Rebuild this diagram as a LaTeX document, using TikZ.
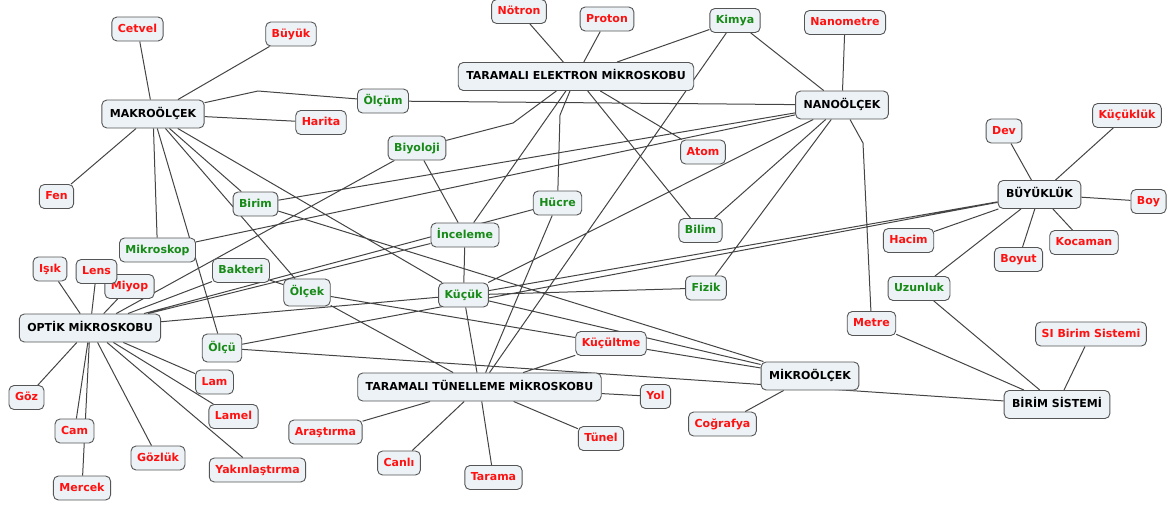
\documentclass[tikz,border=0pt]{standalone}
\usepackage{fontspec}
\setmainfont{DejaVu Sans}
\usetikzlibrary{backgrounds}

\definecolor{kuturenk}{HTML}{ECF2F5}
\definecolor{kenarrenk}{HTML}{555555}
\definecolor{cizgirenk}{HTML}{444444}
\definecolor{yesilrenk}{HTML}{178A17}
\definecolor{kirmizirenk}{HTML}{FF1111}

\begin{document}
\begin{tikzpicture}
        [
            x=1pt, y=-1pt,
            kavram/.style = {draw=kenarrenk, fill=kuturenk, rounded corners=5pt, line width=0.9pt,
                             font=\bfseries\fontsize{11}{13}\selectfont, inner xsep=6pt, inner ysep=0pt,
                             text height=8pt, text depth=2pt, minimum height=24pt},
            anakavram/.style = {kavram, text=black, minimum height=28pt, inner xsep=8pt},
            yesilkavram/.style = {kavram, text=yesilrenk},
            kirmizikavram/.style = {kavram, text=kirmizirenk},
            bag/.style = {draw=cizgirenk, line width=1pt}
        ]
            \useasboundingbox (0,0) rectangle (1172,504);

            % ana kavramlar
            \node [anakavram] (makro) at (153,114) {MAKROÖLÇEK};
            \node [anakavram] (tem) at (576,76.5) {TARAMALI ELEKTRON MİKROSKOBU};
            \node [anakavram] (nano) at (842,105) {NANOÖLÇEK};
            \node [anakavram] (buyukluk) at (1039.5,194.5) {BÜYÜKLÜK};
            \node [anakavram] (optik) at (90,328) {OPTİK MİKROSKOBU};
            \node [anakavram] (ttm) at (479.5,387) {TARAMALI TÜNELLEME MİKROSKOBU};
            \node [anakavram] (mikro) at (810,376) {MİKROÖLÇEK};
            \node [anakavram] (birimsis) at (1057,404.5) {BİRİM SİSTEMİ};

            % yesil kavramlar
            \node [yesilkavram] (olcum) at (383,101) {Ölçüm};
            \node [yesilkavram] (kimya) at (735,20.5) {Kimya};
            \node [yesilkavram] (biyoloji) at (417,148) {Biyoloji};
            \node [yesilkavram] (birim) at (255.5,204) {Birim};
            \node [yesilkavram] (hucre) at (557.5,203) {Hücre};
            \node [yesilkavram] (bilim) at (700.5,230.5) {Bilim};
            \node [yesilkavram] (inceleme) at (465,235) {İnceleme};
            \node [yesilkavram] (mikroskop) at (157.5,250) {Mikroskop};
            \node [yesilkavram] (bakteri) at (241,270.5) {Bakteri};
            \node [yesilkavram, minimum height=27pt] (olcek) at (307,292.5) {Ölçek};
            \node [yesilkavram] (kucuk) at (463.5,295) {Küçük};
            \node [yesilkavram] (fizik) at (706,288) {Fizik};
            \node [yesilkavram] (uzunluk) at (919,288.5) {Uzunluk};
            \node [yesilkavram, minimum height=28pt] (olcu) at (222,348) {Ölçü};

            % kirmizi kavramlar
            \node [kirmizikavram] (cetvel) at (137.5,29) {Cetvel};
            \node [kirmizikavram] (buyuk) at (291,34) {Büyük};
            \node [kirmizikavram] (harita) at (321,122.5) {Harita};
            \node [kirmizikavram] (fen) at (56.5,196.5) {Fen};
            \node [kirmizikavram] (notron) at (519,11.5) {Nötron};
            \node [kirmizikavram] (proton) at (607,19) {Proton};
            \node [kirmizikavram] (nanometre) at (845,22.5) {Nanometre};
            \node [kirmizikavram] (atom) at (703,152) {Atom};
            \node [kirmizikavram] (dev) at (1004,131) {Dev};
            \node [kirmizikavram] (kucukluk) at (1127,115.5) {Küçüklük};
            \node [kirmizikavram] (boy) at (1148.5,201.5) {Boy};
            \node [kirmizikavram] (hacim) at (908.5,240.5) {Hacim};
            \node [kirmizikavram] (kocaman) at (1084,242.5) {Kocaman};
            \node [kirmizikavram] (boyut) at (1018.5,259.5) {Boyut};
            \node [kirmizikavram] (isik) at (50,269) {Işık};
            \node [kirmizikavram] (miyop) at (129.5,286.5) {Miyop};
            \node [kirmizikavram] (lens) at (96.5,271.5) {Lens};
            \node [kirmizikavram] (metre) at (871.5,323.5) {Metre};
            \node [kirmizikavram] (sibirim) at (1091,334) {SI Birim Sistemi};
            \node [kirmizikavram] (kucultme) at (611,343.5) {Küçültme};
            \node [kirmizikavram] (lam) at (214.5,382) {Lam};
            \node [kirmizikavram] (yol) at (655.5,396.5) {Yol};
            \node [kirmizikavram] (goz) at (26.5,397.5) {Göz};
            \node [kirmizikavram] (lamel) at (233.5,416.5) {Lamel};
            \node [kirmizikavram] (cografya) at (722.5,424) {Coğrafya};
            \node [kirmizikavram] (arastirma) at (325.5,432) {Araştırma};
            \node [kirmizikavram] (cam) at (74.5,431) {Cam};
            \node [kirmizikavram] (tunel) at (601,438.5) {Tünel};
            \node [kirmizikavram] (canli) at (399,463) {Canlı};
            \node [kirmizikavram] (gozluk) at (158,458) {Gözlük};
            \node [kirmizikavram] (yakin) at (257.5,470) {Yakınlaştırma};
            \node [kirmizikavram] (tarama) at (493.5,477.5) {Tarama};
            \node [kirmizikavram] (mercek) at (82,488) {Mercek};

            % kirik baglantilarin donus noktalari
            \coordinate (k1) at (258,91);
            \coordinate (k2) at (513,123);
            \coordinate (k3) at (560,115);
            \coordinate (k4) at (863,143);

            \begin{pgfonlayer}{background}
            \path [bag]
                (makro) -- (cetvel)  (makro) -- (buyuk)  (makro) -- (k1) -- (olcum)
                (makro) -- (harita)  (makro) -- (fen)  (makro) -- (mikroskop)
                (makro) -- (olcu)  (makro) -- (olcek)  (makro) -- (birim)  (makro) -- (kucuk)
                (olcum) -- (nano)
                (tem) -- (notron)  (tem) -- (proton)  (tem) -- (kimya)
                (tem) -- (k2) -- (biyoloji)  (tem) -- (inceleme)  (tem) -- (k3) -- (hucre)
                (tem) -- (bilim)  (tem) -- (atom)
                (kimya) -- (nano)  (kimya) -- (ttm)
                (nano) -- (nanometre)  (nano) -- (birim)  (nano) -- (mikroskop)
                (nano) -- (kucuk)  (nano) -- (bilim)  (nano) -- (fizik)  (nano) -- (k4) -- (metre)
                (buyukluk) -- (dev)  (buyukluk) -- (kucukluk)  (buyukluk) -- (boy)
                (buyukluk) -- (hacim)  (buyukluk) -- (kocaman)  (buyukluk) -- (boyut)
                (buyukluk) -- (uzunluk)  (buyukluk) -- (kucuk)  (buyukluk) -- (olcu)
                (birim) -- (mikro)
                (biyoloji) -- (optik)  (biyoloji) -- (inceleme)  (inceleme) -- (kucuk)
                (hucre) -- (ttm)
                (optik) -- (isik)  (optik) -- (lens)  (optik) -- (miyop)
                (optik) -- (bakteri)  (optik) -- (hucre)  (optik) -- (inceleme)  (optik) -- (kucuk)
                (optik) -- (goz)  (optik) -- (cam)  (optik) -- (mercek)  (optik) -- (gozluk)
                (optik) -- (yakin)  (optik) -- (lamel)  (optik) -- (lam)
                (bakteri) -- (olcek)  (olcek) -- (kucultme)  (olcek) -- (ttm)
                (kucuk) -- (fizik)  (kucuk) -- (ttm)  (kucuk) -- (mikro)
                (olcu) -- (birimsis)
                (kucultme) -- (ttm)  (kucultme) -- (mikro)
                (ttm) -- (yol)  (ttm) -- (tunel)  (ttm) -- (tarama)  (ttm) -- (canli)  (ttm) -- (arastirma)
                (mikro) -- (cografya)
                (birimsis) -- (metre)  (birimsis) -- (uzunluk)  (birimsis) -- (sibirim);
            \end{pgfonlayer}
        \end{tikzpicture}
\end{document}
